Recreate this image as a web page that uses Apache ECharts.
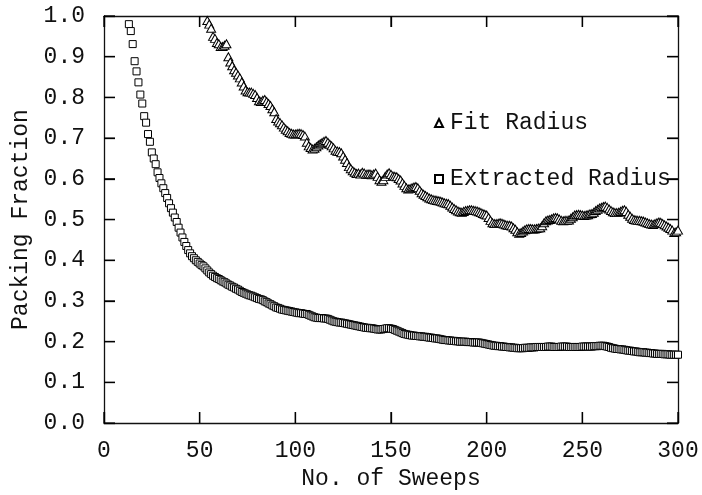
<!DOCTYPE html>
<html>
<head>
<meta charset="utf-8">
<script src="https://cdn.jsdelivr.net/npm/echarts@6/dist/echarts.min.js"></script>
<style>html,body{margin:0;padding:0;background:#fff;}#chart{width:702px;height:495px;background:#fff;}</style>
</head>
<body>
<div id="chart"></div>
<script>
// Data (one point per sweep)
const seriesNames = ['Fit Radius', 'Extracted Radius'];
const xTicks = [0, 50, 100, 150, 200, 250, 300];
const yTicks = [0.0, 0.1, 0.2, 0.3, 0.4, 0.5, 0.6, 0.7, 0.8, 0.9, 1.0];

const extractedStart = 13;
const extractedValues = [
  .980,.963,.931,.889,.864,.837,.807,.785,
  .754,.738,.710,.691,.665,.650,.636,.616,.602,.589,
  .577,.565,.553,.540,.528,.517,.505,.494,.480,.468,
  .456,.445,.435,.425,.417,.410,.405,.400,.396,.392,
  .388,.385,.380,.375,.370,.366,.362,.359,.356,.354,
  .351,.348,.346,.343,.340,.338,.335,.333,.330,.328,
  .325,.322,.320,.318,.316,.314,.313,.311,.309,.307,
  .305,.304,.302,.299,.297,.294,.292,.289,.287,.284,
  .283,.281,.279,.278,.277,.276,.275,.274,.273,.272,
  .271,.270,.270,.269,.268,.268,.266,.264,.262,.260,
  .259,.258,.258,.258,.257,.257,.256,.254,.252,.250,
  .249,.248,.247,.247,.246,.245,.244,.243,.242,.241,
  .240,.239,.238,.237,.236,.235,.234,.234,.233,.233,
  .232,.231,.230,.230,.230,.231,.232,.233,.233,.232,
  .231,.229,.227,.225,.223,.221,.219,.218,.217,.216,
  .215,.215,.214,.214,.213,.213,.212,.212,.211,.210,
  .210,.209,.208,.208,.207,.206,.205,.204,.204,.203,
  .203,.202,.202,.201,.201,.200,.200,.200,.200,.199,
  .199,.199,.198,.198,.198,.198,.197,.196,.195,.194,
  .193,.192,.191,.190,.190,.189,.189,.188,.188,.187,
  .187,.186,.186,.185,.185,.184,.184,.184,.184,.185,
  .185,.185,.186,.186,.186,.187,.187,.187,.187,.187,
  .187,.188,.188,.188,.187,.187,.187,.187,.188,.188,
  .188,.188,.187,.187,.187,.187,.187,.187,.187,.188,
  .188,.188,.188,.188,.188,.189,.189,.189,.190,.190,
  .190,.189,.188,.187,.185,.184,.183,.182,.182,.181,
  .181,.180,.179,.178,.178,.177,.176,.176,.175,.174,
  .174,.174,.173,.173,.172,.172,.171,.171,.170,.170,
  .170,.170,.169,.169,.169,.168,.168,.168,.168,.168
];

const fitStart = 54;
const fitValues = [
  .989,.980,.970,.950,.945,.935,.932,
  .925,.925,.928,.932,.900,.887,.878,.868,.862,.855,
  .848,.838,.828,.818,.814,.813,.813,.810,.807,.800,
  .792,.790,.793,.795,.790,.785,.780,.772,.765,.748,
  .742,.738,.733,.727,.722,.718,.714,.712,.710,.710,
  .711,.712,.711,.709,.705,.690,.681,.677,.673,.675,
  .679,.683,.686,.689,.692,.694,.690,.685,.681,.676,
  .670,.668,.667,.664,.656,.648,.640,.630,.625,.620,
  .616,.613,.614,.612,.616,.614,.611,.612,.612,.610,
  .612,.614,.606,.598,.594,.598,.606,.612,.615,.611,
  .607,.606,.605,.601,.597,.590,.584,.578,.575,.576,
  .578,.580,.581,.578,.572,.566,.562,.559,.556,.553,
  .551,.549,.548,.547,.546,.545,.543,.541,.540,.539,
  .535,.531,.527,.524,.521,.519,.518,.520,.522,.523,
  .524,.524,.523,.522,.521,.519,.517,.515,.513,.511,
  .505,.498,.492,.490,.490,.491,.492,.491,.489,.487,
  .486,.486,.484,.480,.476,.470,.466,.468,.472,.475,
  .477,.478,.478,.477,.477,.478,.479,.480,.485,.492,
  .497,.499,.500,.502,.504,.505,.504,.501,.498,.497,
  .498,.498,.499,.503,.507,.511,.512,.513,.512,.511,
  .510,.511,.512,.514,.515,.518,.522,.525,.528,.530,
  .532,.533,.530,.526,.522,.519,.517,.517,.518,.520,
  .523,.524,.520,.513,.508,.503,.500,.499,.498,.498,
  .497,.496,.494,.492,.490,.489,.488,.490,.492,.494,
  .493,.490,.487,.484,.481,.478,.474,.468,.470,.474
];

const extractedData = extractedValues.map((v, i) => [extractedStart + i, v]);
const fitData = fitValues.map((v, i) => [fitStart + i, v]);

const FONT = '"Liberation Mono", monospace';
const INK = '#111';
const TICK_LEN = 11;
const X_MIN = xTicks[0], X_MAX = xTicks[xTicks.length - 1];
const Y_MIN = yTicks[0], Y_MAX = yTicks[yTicks.length - 1];

const chart = echarts.init(document.getElementById('chart'));

function frameAxis(pos) {
  const isX = pos === 'bottom' || pos === 'top';
  return {
    type: 'value', position: pos,
    min: isX ? X_MIN : Y_MIN, max: isX ? X_MAX : Y_MAX, interval: isX ? 50 : 0.1,
    axisLine: {show: true, onZero: false, lineStyle: {color: INK, width: 1.3}},
    axisTick: {show: true, inside: true, length: TICK_LEN, lineStyle: {color: '#000', width: 1.3}},
    axisLabel: {show: false},
    splitLine: {show: false}
  };
}

const xBottom = frameAxis('bottom');
xBottom.axisLabel = {show: true, margin: 16, color: INK, fontFamily: FONT, fontSize: 23};
xBottom.name = 'No. of Sweeps';
xBottom.nameLocation = 'middle';
xBottom.nameGap = 29;
xBottom.nameTextStyle = {color: INK, fontFamily: FONT, fontSize: 23};
const yLeft = frameAxis('left');
yLeft.axisLabel = {show: true, margin: 19, color: INK, fontFamily: FONT, fontSize: 23,
  formatter: v => v.toFixed(1)};
yLeft.name = 'Packing Fraction';
yLeft.nameLocation = 'middle';
yLeft.nameGap = 70;
yLeft.nameTextStyle = {color: INK, fontFamily: FONT, fontSize: 23};

const option = {
  animation: false,
  grid: {left: 104, right: 24, top: 16, bottom: 69},
  xAxis: [xBottom, frameAxis('top')],
  yAxis: [yLeft, frameAxis('right')],
  legend: {
    orient: 'vertical', left: 429, top: 106, itemGap: 32,
    itemWidth: 8, itemHeight: 8,
    textStyle: {color: INK, fontFamily: FONT, fontSize: 23, lineHeight: 24, padding: [0, 0, 0, 2]},
    data: [{name: seriesNames[0], icon: 'triangle'}, {name: seriesNames[1], icon: 'rect'}]
  },
  series: [
    {
      name: seriesNames[1], type: 'scatter', xAxisIndex: 0, yAxisIndex: 0,
      symbol: 'rect', symbolSize: 7, data: extractedData,
      itemStyle: {color: '#fff', borderColor: '#000', borderWidth: 1, opacity: 1}
    },
    {
      name: seriesNames[0], type: 'scatter', xAxisIndex: 0, yAxisIndex: 0,
      symbol: 'triangle', symbolSize: [9, 8], data: fitData,
      itemStyle: {color: '#fff', borderColor: '#000', borderWidth: 1, opacity: 1}
    }
  ]
};
chart.setOption(option);

// Inward frame ticks on all four sides, positioned through the grid's own scales
const finder = {gridIndex: 0};
const tickLines = [];
const st = {stroke: '#000', lineWidth: 1.3};
xTicks.forEach(v => {
  const a = chart.convertToPixel(finder, [v, Y_MIN]);
  const b = chart.convertToPixel(finder, [v, Y_MAX]);
  tickLines.push({type: 'line', silent: true, z: 100, shape: {x1: a[0], y1: a[1], x2: a[0], y2: a[1] - TICK_LEN}, style: st});
  tickLines.push({type: 'line', silent: true, z: 100, shape: {x1: b[0], y1: b[1], x2: b[0], y2: b[1] + TICK_LEN}, style: st});
});
yTicks.forEach(v => {
  const a = chart.convertToPixel(finder, [X_MIN, v]);
  const b = chart.convertToPixel(finder, [X_MAX, v]);
  tickLines.push({type: 'line', silent: true, z: 100, shape: {x1: a[0], y1: a[1], x2: a[0] + TICK_LEN, y2: a[1]}, style: st});
  tickLines.push({type: 'line', silent: true, z: 100, shape: {x1: b[0], y1: b[1], x2: b[0] - TICK_LEN, y2: b[1]}, style: st});
});
chart.setOption({graphic: tickLines});
</script>
</body>
</html>
